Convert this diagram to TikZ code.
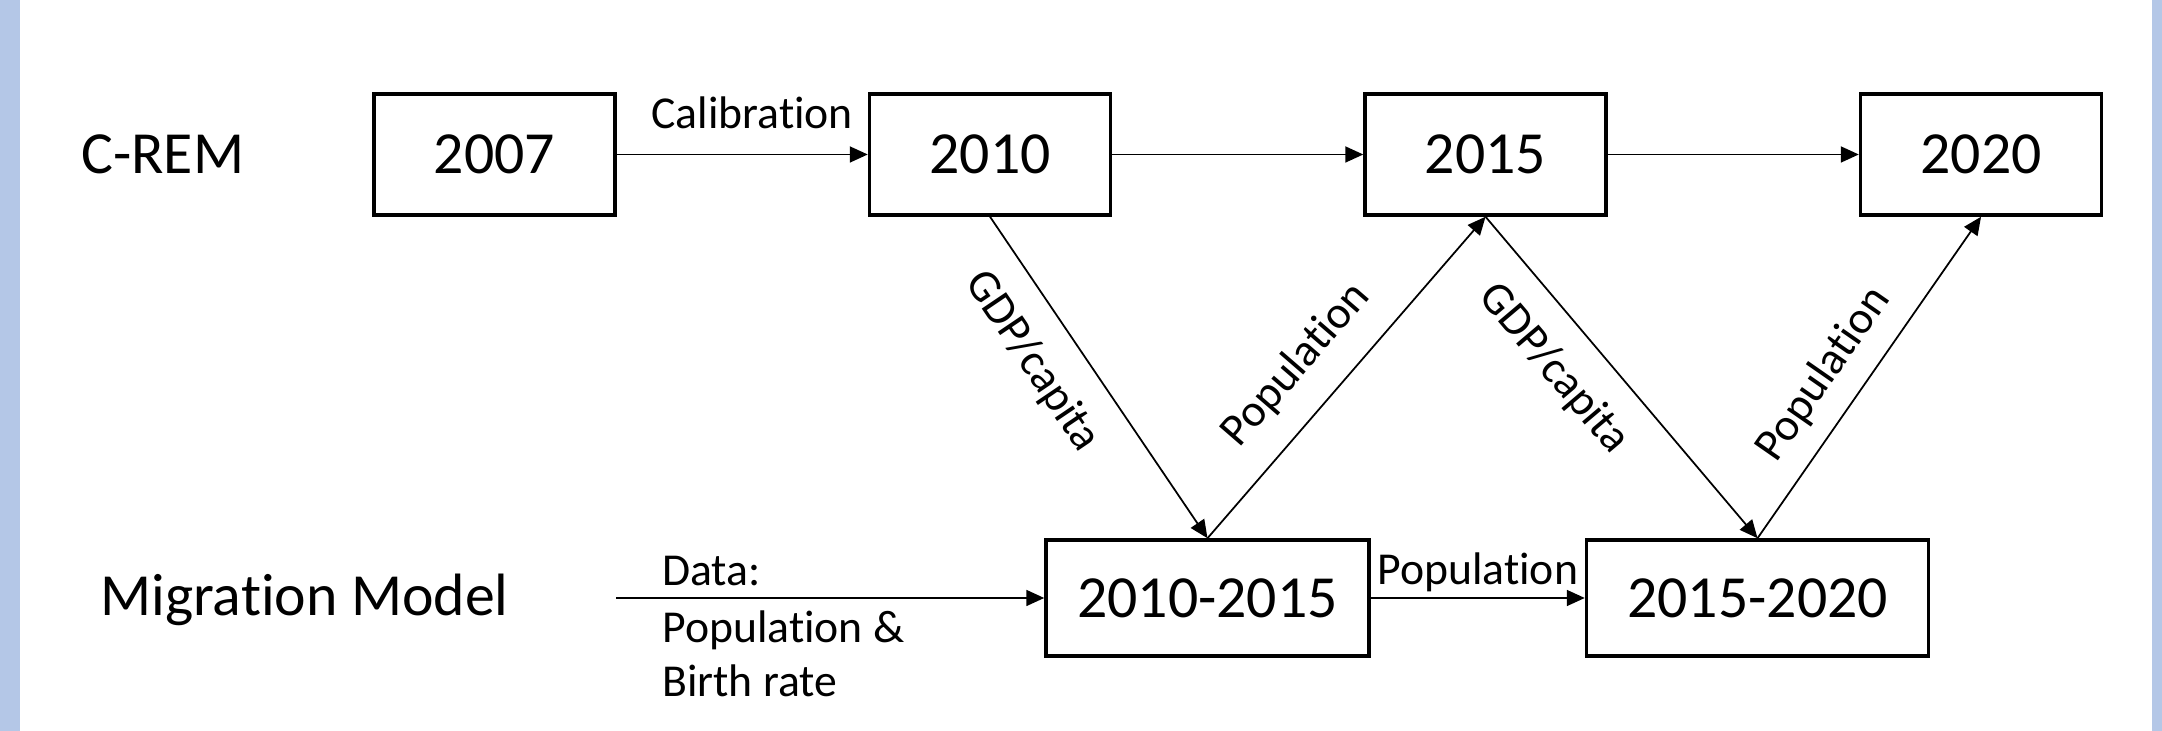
\documentclass[tikz,border=0pt]{standalone}
\usepackage{fontspec}
\setmainfont{Carlito}[Ligatures=NoCommon]
\usetikzlibrary{positioning,arrows.meta}
\definecolor{sidebar}{RGB}{180,199,231}

\begin{document}
\begin{tikzpicture}[
    >={Triangle[length=0.18cm,width=0.16cm]},
    node distance=2.51cm,
    yearbox/.style={
        draw,
        line width=1pt,
        minimum width=2.41cm,
        minimum height=1.21cm,
        font=\fontsize{17}{20}\selectfont
    },
    spanbox/.style={yearbox, minimum height=1.16cm},
    rowlabel/.style={anchor=west, font=\fontsize{17}{20}\selectfont},
    annot/.style={font=\fontsize{13}{15.6}\selectfont, align=left},
    link/.style={->, line width=0.5pt}
]
\useasboundingbox (0,0) rectangle (21.62,7.31);
\fill[sidebar] (0,0) rectangle (0.2,7.31);
\fill[sidebar] (21.52,0) rectangle (21.62,7.31);

% C-REM row
\node[rowlabel] (crem) at (0.69,5.77) {C-REM};
\node[yearbox] (y2007) at (4.945,5.765) {2007};
\node[yearbox, right=of y2007] (y2010) {2010};
\node[yearbox, right=of y2010] (y2015) {2015};
\node[yearbox, right=of y2015] (y2020) {2020};

% migration row
\node[rowlabel] (mig) at (0.88,1.31) {Migration Model};
\node[spanbox, minimum width=3.23cm] (p1) at (12.075,1.33) {2010-2015};
\node[spanbox, minimum width=3.42cm, right=2.14cm of p1] (p2) {2015-2020};
\coordinate (datain) at (6.16,1.33);

\draw[link] (y2007) -- node[above=3.7pt, xshift=0.1cm, annot] (lcal) {Calibration} (y2010);
\draw[link] (y2010) -- (y2015);
\draw[link] (y2015) -- (y2020);

\draw[link] (datain) -- (p1);
\node[annot, anchor=south west] (ldata) at ([xshift=0.34cm]datain) {Data:};
\node[annot, anchor=north west] (linput) at ([xshift=0.34cm]datain)
    {Population \&\\Birth rate};
\draw[link] (p1) -- node[above=-1.7pt, annot] (lpop) {Population} (p2);

\draw[link] (y2010.south) -- node[pos=0.37, below=4pt, sloped, annot] (lgdp1) {GDP/capita} (p1.north);
\draw[link] (p1.north) -- node[pos=0.445, above=4pt, sloped, annot] (lpop1) {Population} (y2015.south);
\draw[link] (y2015.south) -- node[pos=0.38, below=4pt, sloped, annot] (lgdp2) {GDP/capita} (p2.north);
\draw[link] (p2.north) -- node[pos=0.44, above=2pt, sloped, annot] (lpop2) {Population} (y2020.south);

\end{tikzpicture}
\end{document}
